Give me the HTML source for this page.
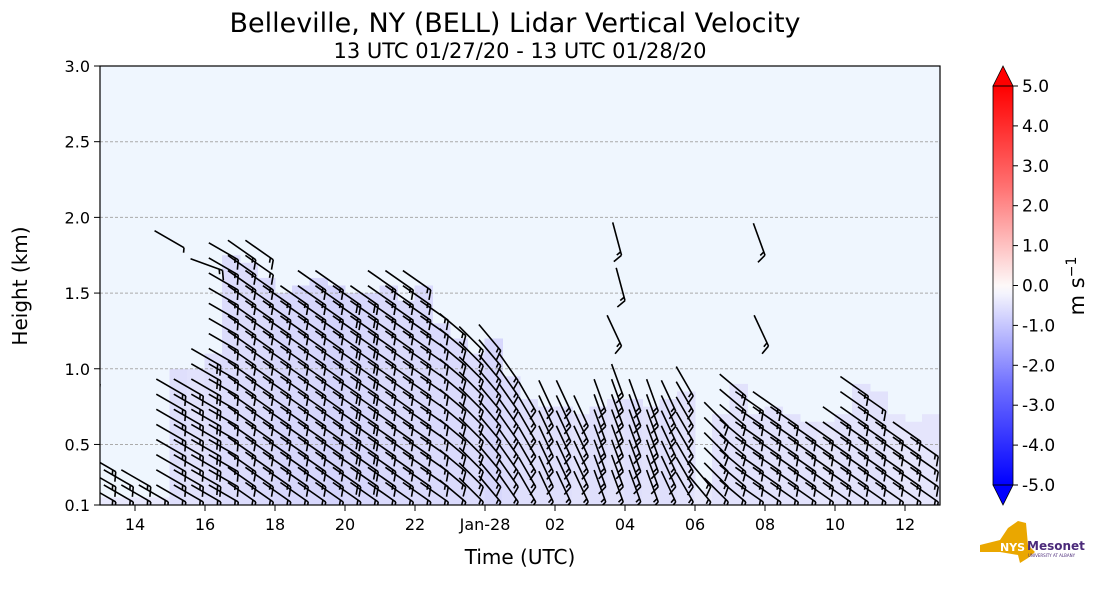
<!DOCTYPE html>
<html><head><meta charset="utf-8">
<style>
body{margin:0;background:#fff;width:1101px;height:600px;overflow:hidden;font-family:"Liberation Sans",sans-serif;}
svg text{font-family:"DejaVu Sans","Liberation Sans",sans-serif;}
</style></head>
<body>
<svg id="chart" width="1101" height="600" xmlns="http://www.w3.org/2000/svg">
<defs>
<linearGradient id="cbar" x1="0" y1="0" x2="0" y2="1">
<stop offset="0" stop-color="#ff0000"/><stop offset="0.25" stop-color="#ff7070"/><stop offset="0.5" stop-color="#fdf8f8"/><stop offset="0.52" stop-color="#f4f4fd"/><stop offset="0.75" stop-color="#7070ff"/><stop offset="1" stop-color="#0000ff"/>
</linearGradient>
<clipPath id="plotclip"><rect x="100" y="66" width="840" height="439"/></clipPath>
</defs>
<text x="515" y="32" font-size="27" text-anchor="middle">Belleville, NY (BELL) Lidar Vertical Velocity</text>
<text x="520" y="58" font-size="21" text-anchor="middle">13 UTC 01/27/20 - 13 UTC 01/28/20</text>
<rect x="100" y="66" width="840" height="439" fill="#eff6fe"/>
<g id="shade" clip-path="url(#plotclip)"></g>
<g id="grid"></g>
<g id="barbs" clip-path="url(#plotclip)" stroke="#000" stroke-width="1.6" fill="none"></g>
<rect x="100" y="66" width="840" height="439" fill="none" stroke="#000" stroke-width="1.2"/>
<g id="axes"></g>
<text transform="translate(27,286) rotate(-90)" font-size="20" text-anchor="middle">Height (km)</text>
<text x="520" y="564" font-size="20" text-anchor="middle">Time (UTC)</text>
<g>
<rect x="993" y="86" width="20" height="399" fill="url(#cbar)"/>
<polygon points="993,86 1003,66 1013,86" fill="#ff0000" stroke="#000" stroke-width="0.8"/>
<polygon points="993,485 1003,505 1013,485" fill="#0000ff" stroke="#000" stroke-width="0.8"/>
<rect x="993" y="86" width="20" height="399" fill="none" stroke="#000" stroke-width="0.8"/>
<g id="cbticks"></g>
<text transform="translate(1084,286) rotate(-90)" font-size="21" text-anchor="middle">m s<tspan dy="-8" font-size="14">−1</tspan></text>
</g>
<g>
<polygon points="980,545 1000,540 1008,528 1018,521 1026,523 1028,545 1035,552 1028,558 1020,563 1018,555 1000,552 980,552" fill="#eaa700"/>
<text x="1000" y="551" font-size="11" font-weight="bold" fill="#fff">NYS</text>
<text x="1027" y="550" font-size="12" font-weight="bold" fill="#4b2a7a">Mesonet</text>
<text x="1028" y="557" font-size="4" fill="#4b2a7a">UNIVERSITY AT ALBANY</text>
</g>
</svg>
<script>
const hours=[];for(let i=0;i<48;i++)hours.push(13+i*0.5);
const shadeTop=[0.15,0.15,0.15,0.15,1.0,1.0,1.1,1.75,1.7,1.6,1.5,1.55,1.6,1.55,1.5,1.5,1.55,1.45,1.55,1.3,1.2,1.1,1.2,0.95,0.8,0.75,0.75,0.7,0.75,0.8,0.8,0.75,0.8,0.85,0.2,0.7,0.9,0.7,0.75,0.7,0.65,0.65,0.7,0.9,0.85,0.7,0.65,0.7];
const shadeW=[-0.3,-0.3,-0.3,-0.3,-0.6,-0.5,-0.6,-0.7,-0.7,-0.8,-0.9,-0.9,-0.9,-1.0,-0.9,-0.9,-0.8,-0.8,-0.8,-0.8,-0.8,-0.7,-0.9,-0.7,-0.6,-0.6,-0.6,-0.5,-0.6,-0.5,-0.6,-0.5,-0.6,-0.5,-0.3,-0.5,-0.5,-0.5,-0.5,-0.5,-0.5,-0.4,-0.5,-0.5,-0.5,-0.4,-0.4,-0.4];
const barbTop=[0.4,0.3,0.3,0.2,0.9,0.9,1.1,1.75,1.75,1.75,1.5,1.5,1.6,1.6,1.5,1.5,1.55,1.55,1.55,1.4,1.3,1.2,1.2,1.0,0.75,0.75,0.75,0.7,0.75,0.9,0.8,0.75,0.8,0.9,0.3,0.65,0.9,0.75,0.75,0.65,0.6,0.6,0.65,0.85,0.75,0.6,0.55,0.5];
const barbDir=[300,300,300,300,300,300,300,300,305,305,305,305,305,305,305,305,305,305,305,305,310,315,320,325,330,335,335,335,340,340,340,340,335,330,320,315,310,305,305,305,305,305,305,305,305,305,305,305];
const barbSpeed=[15,15,15,15,15,15,20,15,15,15,15,15,15,15,20,20,15,15,15,15,15,15,15,15,15,15,15,15,15,15,15,15,15,15,15,15,15,15,15,15,15,15,15,15,15,15,15,15];
const extraBarbs=[[13.0,0.9,300,10],[15.4,1.8,300,5],[16.5,1.65,290,15],[3.9,1.75,345,15],[4.0,1.45,345,15],[3.9,1.15,335,15],[8.0,1.75,340,15],[8.1,1.15,335,15]];
const xTicks=["14","16","18","20","22","Jan-28","02","04","06","08","10","12"];
const xTickHours=[14,16,18,20,22,24,26,28,30,32,34,36];
const yTicks=[0.1,0.5,1.0,1.5,2.0,2.5,3.0];
const cbTicks=[5,4,3,2,1,0,-1,-2,-3,-4,-5];

const NS='http://www.w3.org/2000/svg';
const X=h=>100+(h-13)*35;
const Y=k=>505-(k-0.1)*(439/2.9);
function mk(tag,attrs,parent){const e=document.createElementNS(NS,tag);for(const k in attrs)e.setAttribute(k,attrs[k]);parent.appendChild(e);return e;}
function wColor(w){const t=Math.min(1,Math.abs(w));const c=Math.round(240-t*28);return `rgb(${c},${c},252)`;}

const shade=document.getElementById('shade');
hours.forEach((h,i)=>{
  const r=mk('rect',{x:X(h)-0.5,y:Y(shadeTop[i]),width:18.5,height:505-Y(shadeTop[i]),fill:wColor(shadeW[i])},shade);
  
  
});

const grid=document.getElementById('grid');
[0.5,1.0,1.5,2.0,2.5].forEach(k=>{
  const l=mk('line',{x1:100,x2:940,y1:Y(k),y2:Y(k),stroke:'#aaa','stroke-dasharray':'3,2','stroke-width':1},grid);
  
  
});

const barbs=document.getElementById('barbs');
function drawBarb(h,k,dir,spd){
  const x=X(h),y=Y(k),L=34,r=dir*Math.PI/180;
  const dx=Math.sin(r),dy=-Math.cos(r);
  const g=mk('g',{},barbs);
  
  
  mk('line',{x1:x+dx*L,y1:y+dy*L,x2:x,y2:y},g);
  const a=-115*Math.PI/180;
  const tx=dx*Math.cos(a)-dy*Math.sin(a), ty=dx*Math.sin(a)+dy*Math.cos(a);
  let n=Math.round(spd/5),pos=0;
  while(n>0){
    const len=n>=2?10:5;
    const bx=x+dx*pos,by=y+dy*pos;
    mk('line',{x1:bx,y1:by,x2:bx+tx*len,y2:by+ty*len},g);
    n-=n>=2?2:1;pos+=3.5;
  }
}
hours.forEach((h,i)=>{
  for(let k=0.12;k<=barbTop[i]+0.001;k+=0.1)drawBarb(h+0.45,k,barbDir[i],barbSpeed[i]);
});
extraBarbs.forEach(b=>drawBarb(b[0]<13?b[0]+24:b[0],b[1],b[2],b[3]));

const axes=document.getElementById('axes');
xTicks.forEach((t,i)=>{
  const x=X(xTickHours[i]);
  mk('line',{x1:x,x2:x,y1:505,y2:511,stroke:'#000'},axes);
  const tx=mk('text',{x:x,y:530,'font-size':16,'text-anchor':'middle'},axes);tx.textContent=t;
  
  
});
yTicks.forEach(k=>{
  const y=Y(k);
  mk('line',{x1:94,x2:100,y1:y,y2:y,stroke:'#000'},axes);
  const tx=mk('text',{x:90,y:y+6,'font-size':16,'text-anchor':'end'},axes);tx.textContent=k.toFixed(1);
  
  
});
const cb=document.getElementById('cbticks');
cbTicks.forEach(v=>{
  const y=285.5-v*39.9;
  mk('line',{x1:1013,x2:1018,y1:y,y2:y,stroke:'#000'},cb);
  const tx=mk('text',{x:1022,y:y+6,'font-size':17},cb);tx.textContent=v.toFixed(1);
  
  
});
</script>
</body></html>
